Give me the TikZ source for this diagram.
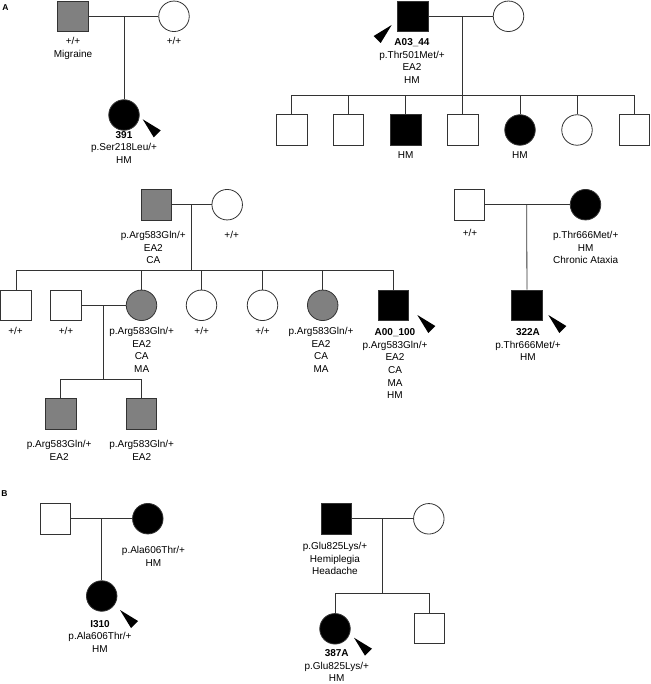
\documentclass[tikz,border=0pt]{standalone}
\usepackage{fontspec}
\setmainfont{Liberation Sans}

\tikzset{
  ind/.style={draw=black!80, line width=0.8pt, minimum size=30.5pt, inner sep=0pt},
  male/.style={ind, rectangle},
  female/.style={ind, circle},
  aff/.style={fill=black},
  car/.style={fill=black!50},
  rel/.style={draw=black!80, line width=0.8pt},
  lab/.style={anchor=north, align=center, inner sep=0pt, font=\fontsize{10}{12.7}\selectfont},
  panel/.style={inner sep=0pt, font=\fontsize{8.5}{9}\selectfont\bfseries},
  proband/.pic={\fill (0,0) -- (18,11) -- (11,18) -- cycle;}
}

\begin{document}
\begin{tikzpicture}[x=1pt, y=-1pt]
\useasboundingbox (0,0) rectangle (650,684);

% panel A, family 391
	\node[panel] (pA) at (5.5,7.5) {A};
	\node[male,car] (m391) at (73,16.3) {};
	\node[female] (f391) at (174,16.3) {};
	\coordinate (j391) at (124,16.3);
	\node[female,aff] (p391) at (124,115) {};
	\draw[rel] (m391) -- (f391);
	\draw[rel] (j391) -- (p391);
	\node[lab] (lm391) at (73,37) {+/+\\Migraine};
	\node[lab] (lf391) at (174,37) {+/+};
	\node[lab] (l391) at (124,131) {\textbf{391}\\p.Ser218Leu/+\\HM};
	\pic at (142.7,119.3) {proband};

% family A03_44
	\node[male,aff] (m44) at (413,16.3) {};
	\node[female] (f44) at (508.5,16.3) {};
	\coordinate (j44) at (462.7,16.3);
	\coordinate (s44) at (462.7,95);
	\draw[rel] (m44) -- (f44);
	\draw[rel] (j44) -- (s44);
	\node[male] (k441) at (291.7,130) {};
	\node[male] (k442) at (348.6,130) {};
	\node[male,aff] (k443) at (405.7,130) {};
	\node[male] (k444) at (462.7,130) {};
	\node[female,aff] (k445) at (520,130) {};
	\node[female] (k446) at (577,130) {};
	\node[male] (k447) at (634.3,130) {};
	\foreach \k in {k441,k442,k443,k444,k445,k446,k447}
		\draw[rel] (\k.north) |- (s44);
	\node[lab] (l44) at (412,38.3) {\textbf{A03\_44}\\p.Thr501Met/+\\EA2\\HM};
	\node[lab] (lk443) at (405.7,151.7) {HM};
	\node[lab] (lk445) at (520,151.7) {HM};
	\pic[xscale=-1] at (391.7,25) {proband};

% family A00_100
	\node[male,car] (m100) at (156.2,204.7) {};
	\node[female] (f100) at (227.2,204.7) {};
	\coordinate (j100) at (191.7,204.7);
	\coordinate (s100) at (191.7,270);
	\draw[rel] (m100) -- (f100);
	\draw[rel] (j100) -- (s100);
	\node[male] (k1001) at (16,305.3) {};
	\node[female,car] (k1003) at (141.5,305.3) {};
	\node[female] (k1004) at (201.5,305.3) {};
	\node[female] (k1005) at (262.5,305.3) {};
	\node[female,car] (k1006) at (322.7,305.3) {};
	\node[male,aff] (p100) at (393.2,305.3) {};
	\foreach \k in {k1001,k1003,k1004,k1005,k1006,p100}
		\draw[rel] (\k.north) |- (s100);
	\node[male] (h1003) at (66,305.3) {};
	\coordinate (j1003) at (103.3,305.3);
	\coordinate (s1003) at (103.3,379.3);
	\draw[rel] (h1003) -- (k1003);
	\draw[rel] (j1003) -- (s1003);
	\node[male,car] (g1) at (60.8,414) {};
	\node[male,car] (g2) at (141.3,414) {};
	\foreach \k in {g1,g2}
		\draw[rel] (\k.north) |- (s1003);
	\node[lab] (lm100) at (153.3,231) {p.Arg583Gln/+\\EA2\\CA};
	\node[lab] (lf100) at (231.7,231) {+/+};
	\node[lab] (lk1001) at (15.5,327) {+/+};
	\node[lab] (lh1003) at (66,327) {+/+};
	\node[lab] (lk1003) at (141.7,327) {p.Arg583Gln/+\\EA2\\CA\\MA};
	\node[lab] (lk1004) at (201.7,327) {+/+};
	\node[lab] (lk1005) at (262.5,327) {+/+};
	\node[lab] (lk1006) at (321,327) {p.Arg583Gln/+\\EA2\\CA\\MA};
	\node[lab] (l100) at (395,328.3) {\textbf{A00\_100}\\p.Arg583Gln/+\\EA2\\CA\\MA\\HM};
	\node[lab] (lg1) at (59.2,440.3) {p.Arg583Gln/+\\EA2};
	\node[lab] (lg2) at (141.7,440.3) {p.Arg583Gln/+\\EA2};
	\pic at (417.3,315) {proband};

% family 322A
	\node[male] (m322) at (469.2,204.7) {};
	\node[female,aff] (f322) at (585.5,204.7) {};
	\coordinate (j322) at (526.7,204.7);
	\node[male,aff] (p322) at (527,305.3) {};
	\draw[rel] (m322) -- (f322);
	\draw[rel] (j322) -- (p322);
	\node[lab] (lm322) at (470,229.5) {+/+};
	\node[lab] (lf322) at (585.7,231) {p.Thr666Met/+\\HM\\Chronic Ataxia};
	\node[lab] (l322) at (528,328.3) {\textbf{322A}\\p.Thr666Met/+\\HM};
	\pic at (548.3,315) {proband};

% panel B, family I310
	\node[panel] (pB) at (4.5,493.2) {B};
	\node[male] (m310) at (55.3,518.7) {};
	\node[female,aff] (f310) at (147.8,518.7) {};
	\coordinate (j310) at (101.7,518.7);
	\node[female,aff] (p310) at (101.7,596) {};
	\draw[rel] (m310) -- (f310);
	\draw[rel] (j310) -- (p310);
	\node[lab] (lf310) at (153.5,546) {p.Ala606Thr/+\\HM};
	\node[lab] (l310) at (100,620) {\textbf{I310}\\p.Ala606Thr/+\\HM};
	\pic at (120,610) {proband};

% family 387A
	\node[male,aff] (m387) at (336.5,518.8) {};
	\node[female] (f387) at (428.8,518.8) {};
	\coordinate (j387) at (382.7,518.8);
	\coordinate (s387) at (382.7,593.3);
	\draw[rel] (m387) -- (f387);
	\draw[rel] (j387) -- (s387);
	\node[female,aff] (p387) at (335,628.8) {};
	\node[male] (k387) at (429.5,628.3) {};
	\foreach \k in {p387,k387}
		\draw[rel] (\k.north) |- (s387);
	\node[lab] (lm387) at (335,542) {p.Glu825Lys/+\\Hemiplegia\\Headache};
	\node[lab] (l387) at (336.7,649.3) {\textbf{387A}\\p.Glu825Lys/+\\HM};
	\pic at (354,637.7) {proband};

\end{tikzpicture}
\end{document}
